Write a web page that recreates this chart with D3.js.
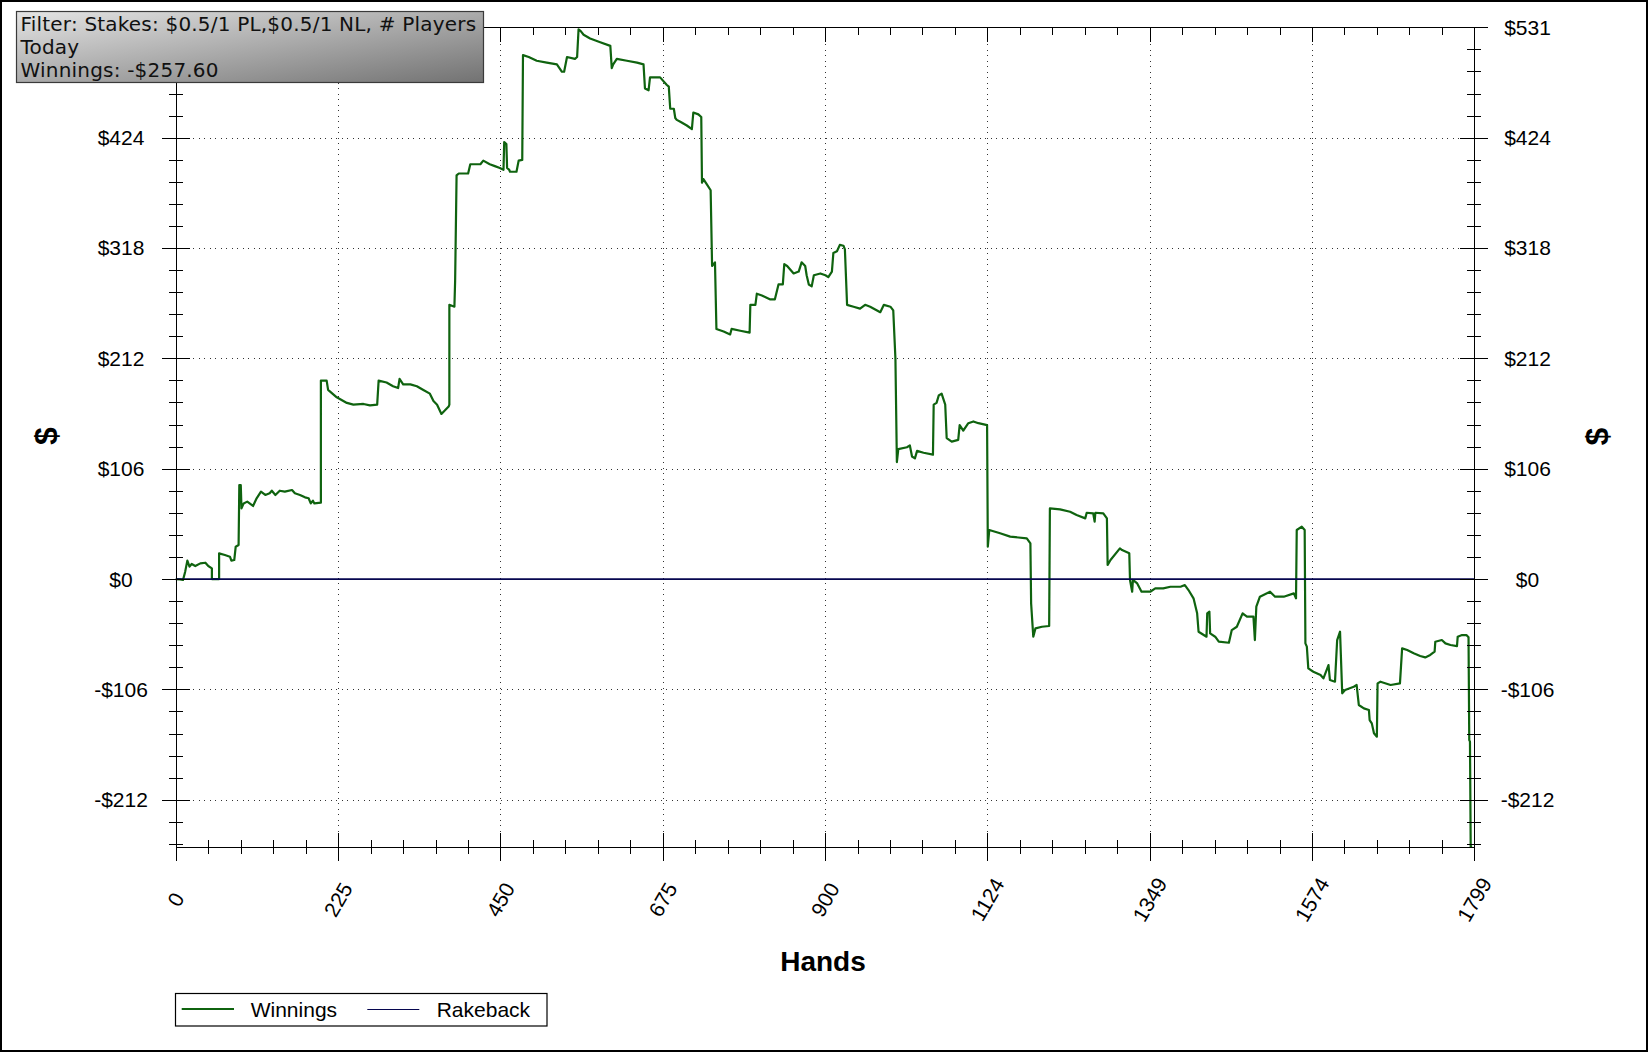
<!DOCTYPE html>
<html><head><meta charset="utf-8">
<script src="https://cdn.jsdelivr.net/npm/d3@7"></script>
<style>body{margin:0;background:#fff;overflow:hidden}</style>
</head><body>
<svg id="c" width="1649" height="1053"></svg>
<script>
// ---- data ----
const hands = [0,6,10,13,16,19,22,27,34,41,45,50,50,60,60,68,75,77,81,83,87,88,90,91,94,99,107,112,118,124,130,133,138,144,151,161,165,172,179,184,187,190,192,201,201,209,211,223,237,246,260,269,279,281,292,301,308,310,315,325,334,343,352,357,362,368,373,378,379,379,386,387,389,392,405,408,422,426,435,442,449,454,455,458,459,462,463,472,475,480,481,489,500,514,528,535,538,542,553,556,558,561,565,574,588,602,604,606,611,625,639,648,650,655,657,671,680,683,685,690,692,694,699,708,715,717,724,728,729,731,736,741,743,747,749,759,768,770,782,795,796,803,805,812,823,830,835,841,843,847,856,863,867,872,874,877,881,884,893,900,904,909,911,916,920,925,927,930,939,948,955,962,976,981,990,994,997,999,1001,1013,1017,1020,1024,1027,1036,1049,1050,1054,1057,1061,1066,1068,1075,1084,1086,1091,1098,1105,1112,1124,1125,1127,1142,1156,1179,1184,1185,1188,1191,1200,1210,1211,1225,1239,1248,1260,1262,1271,1273,1274,1285,1290,1291,1295,1308,1311,1321,1322,1325,1326,1332,1338,1350,1357,1368,1378,1392,1398,1403,1410,1415,1417,1428,1429,1432,1433,1440,1445,1459,1463,1470,1478,1484,1493,1495,1497,1502,1516,1523,1535,1549,1552,1553,1560,1564,1565,1567,1569,1576,1586,1590,1597,1599,1606,1609,1613,1616,1620,1632,1636,1639,1646,1653,1654,1657,1660,1664,1665,1669,1683,1696,1699,1706,1715,1724,1731,1738,1744,1745,1754,1759,1766,1775,1776,1782,1788,1791,1792,1793,1794,1796];
const winnings = [0,-0.3,-0.9,7.1,17.7,11.9,14.5,12.5,15.1,15.7,12.5,10.3,0,0,24.7,23.1,21.5,17.7,18.3,31.1,32.7,90.5,90.5,68,72.8,74.5,70.3,77.7,84.1,80.9,82.5,85,80.9,85,84.1,85.7,82.5,80.9,78.6,77.7,72.8,75.4,72.8,73.5,191,191,182,174.9,169.5,167.8,168.5,167.1,167.8,191,189.1,185.6,183.8,192.7,187.3,187.3,185.6,182,178.4,171.3,167.8,158.9,162.4,166,167.8,263.9,262.1,287,388.5,390.3,390.3,399.2,399.2,402.7,399.2,397.4,395.6,393.8,420.5,418.7,395.6,393.8,392,392,402.7,403.4,504.2,502.4,498.8,497,495.3,488.2,488.2,502.4,500.6,502.4,529.1,527.3,523.8,520.2,516.6,513.1,491.7,495.3,500.6,498.8,497,495.3,472.1,470.4,482.8,482.8,475.7,473.9,452.6,452.6,443.7,441.9,440.1,436.5,433,449,447.2,444.7,381.4,384.9,379.6,374.2,301.3,304.8,240.7,238.2,235.4,240.7,239,237.2,263.9,263.9,274.6,272.8,269.2,269.2,283.5,283.5,303,301.3,294.1,295.9,304.8,301.3,292.4,283.5,281.7,292.4,294.1,292.4,290.6,295.9,313.7,315.5,321.6,320.8,317.3,263.9,262.1,260.3,263.9,262.1,256.8,263.9,262.1,258.5,212.3,112.6,125,126.8,128.6,117.9,116.1,123.3,121.5,119.7,167.8,169.5,176.7,178.4,167.8,135.7,132.2,133.9,148.2,142.8,150,151.7,150,148.2,31.1,47.2,44,40.8,39.1,34.3,-23.4,-55.5,-47.5,-45.9,-45.2,68,67.1,64.8,61.6,58.4,63.8,63.2,55.2,63.8,63.2,58.4,13.5,18.3,29.5,27.9,24.7,-0.9,-12.2,-0.9,-4.2,-12.2,-12.2,-9,-9,-7.4,-7.4,-5.8,-10.6,-18.6,-33,-50.7,-55.5,-33,-31.4,-52.3,-55.5,-60.3,-61.3,-49.1,-45.9,-33,-36.2,-36.2,-58.7,-26.6,-17,-12.2,-17,-17,-13.8,-18.6,47.2,50.4,47.2,-61.9,-65.1,-86,-89.2,-92.4,-95.6,-82.8,-97.2,-98.8,-58.7,-50.7,-110,-106.8,-103.6,-102,-121.2,-124.5,-126.1,-135.7,-138.9,-148.5,-151.7,-100.4,-98.8,-102,-100.4,-66.7,-68.3,-71.5,-74.1,-75.4,-73.1,-69.9,-60.3,-58.7,-61.9,-63.5,-64.5,-55.5,-53.9,-53.9,-56.1,-155,-156.5,-257.6,-257.6];
const rakebackHands = [0, 1799];
const rakeback = [0, 0];
const xTickValues = [0, 224.875, 449.75, 674.625, 899.5, 1124.375, 1349.25, 1574.125, 1799];
const xTickLabels = ["0","225","450","675","900","1124","1349","1574","1799"];
const yTickValues = [-212.4, -106.2, 0, 106.2, 212.4, 318.6, 424.8, 531];
const yTickLabels = ["-$212","-$106","$0","$106","$212","$318","$424","$531"];
const xDomain = [0, 1799];
const yDomain = [-257.6, 531];
const filterLines = ["Filter: Stakes: $0.5/1 PL,$0.5/1 NL, # Players", "Today", "Winnings: -$257.60"];
const legendItems = ["Winnings", "Rakeback"];
const xTitle = "Hands", yTitle = "$";

// ---- drawing ----
const svg = d3.select('#c');
const L = 175.8, R = 1474.3, T = 27.3, B = 846.7;
const x = d3.scaleLinear().domain(xDomain).range([L, R]);
const y = d3.scaleLinear().domain(yDomain).range([B, T]);
const px = v => Math.round(v) + 0.5;
const GREEN = '#0f630f', NAVY = '#06064f';

svg.append('rect').attr('width',1649).attr('height',1053).attr('fill','#fff');

// grid
const grid = svg.append('g').attr('stroke','#333').attr('stroke-width',1).attr('stroke-dasharray','1,4.5').attr('shape-rendering','crispEdges');
grid.selectAll('.gx').data(xTickValues.slice(1,-1)).join('line')
  .attr('x1',d=>px(x(d))).attr('x2',d=>px(x(d))).attr('y1',px(T)).attr('y2',px(B));
grid.selectAll('.gy').data(yTickValues.filter(d=>d!==0 && d!==531)).join('line')
  .attr('y1',d=>px(y(d))).attr('y2',d=>px(y(d))).attr('x1',px(L)).attr('x2',px(R));

// winnings line
const pts = d3.zip(hands, winnings);
svg.append('path').datum(pts)
  .attr('d', d3.line().x(d=>x(d[0])).y(d=>y(d[1])))
  .attr('fill','none').attr('stroke',GREEN).attr('stroke-width',2.2).attr('stroke-linejoin','round');

// rakeback line
svg.append('path').datum(d3.zip(rakebackHands, rakeback))
  .attr('d', d3.line().x(d=>x(d[0])).y(d=>y(d[1])))
  .attr('fill','none').attr('stroke',NAVY).attr('stroke-width',1.8);

// axes frame
const ax = svg.append('g').attr('stroke','#000').attr('stroke-width',1.3).attr('shape-rendering','crispEdges');
ax.append('line').attr('x1',px(L)).attr('x2',px(L)).attr('y1',px(T)).attr('y2',B+14);
ax.append('line').attr('x1',px(R)).attr('x2',px(R)).attr('y1',px(T)).attr('y2',B+14);
ax.append('line').attr('x1',L).attr('x2',R).attr('y1',px(B)).attr('y2',px(B));
ax.append('line').attr('x1',L).attr('x2',R).attr('y1',px(T)).attr('y2',px(T));

// minor ticks
const xMinor = d3.range(0, 41).map(i => i*1799/40).filter((d,i)=>i%5!==0);
const yMinor = d3.range(-12, 26).map(i => i*21.24).filter((d,i)=>d>=-257.6 && Math.abs(d/106.2 - Math.round(d/106.2))>0.01);
ax.selectAll('.xmb').data(xMinor).join('line').attr('x1',d=>px(x(d))).attr('x2',d=>px(x(d))).attr('y1',B-7).attr('y2',B+7);
ax.selectAll('.xmt').data(xMinor).join('line').attr('x1',d=>px(x(d))).attr('x2',d=>px(x(d))).attr('y1',T).attr('y2',T+7.5);
ax.selectAll('.xMb').data(xTickValues).join('line').attr('x1',d=>px(x(d))).attr('x2',d=>px(x(d))).attr('y1',B-14).attr('y2',B+14);
ax.selectAll('.xMt').data(xTickValues).join('line').attr('x1',d=>px(x(d))).attr('x2',d=>px(x(d))).attr('y1',T).attr('y2',T+15);
[L, R].forEach(xx => {
  ax.selectAll(null).data(yMinor).join('line').attr('y1',d=>px(y(d))).attr('y2',d=>px(y(d))).attr('x1',xx-7).attr('x2',xx+7);
  ax.selectAll(null).data(yTickValues).join('line').attr('y1',d=>px(y(d))).attr('y2',d=>px(y(d))).attr('x1',xx-14).attr('x2',xx+14);
});

// tick labels
const FONT = '"Liberation Sans", Arial, sans-serif';
const tl = svg.append('g').attr('font-family',FONT).attr('font-size',21).attr('fill','#000');
tl.selectAll('.xl').data(xTickValues).join('text')
  .attr('transform',d=>`translate(${x(d)},899.5) rotate(-60)`)
  .attr('text-anchor','middle').attr('dominant-baseline','central')
  .text((d,i)=>xTickLabels[i]);
// left labels: the top one is covered by the filter box in the reference
tl.selectAll('.yl').data(yTickValues.slice(0,-1)).join('text')
  .attr('x',121).attr('y',d=>y(d)).attr('text-anchor','middle').attr('dominant-baseline','central')
  .text((d,i)=>yTickLabels[i]);
tl.selectAll('.yr').data(yTickValues).join('text')
  .attr('x',1527.5).attr('y',d=>y(d)).attr('text-anchor','middle').attr('dominant-baseline','central')
  .text((d,i)=>yTickLabels[i]);

// titles
svg.append('text').attr('x',823).attr('y',970.5).attr('text-anchor','middle')
  .attr('font-family',FONT).attr('font-weight','bold').attr('font-size',28).text(xTitle);
[[46.3,436],[1596.5,436.6]].forEach(([cx,cy]) => {
  svg.append('text').attr('transform',`translate(${cx},${cy}) rotate(-90)`)
    .attr('text-anchor','middle').attr('dominant-baseline','central')
    .attr('font-family',FONT).attr('font-weight','bold').attr('font-size',32).text(yTitle);
});

// legend
const lg = svg.append('g');
lg.append('rect').attr('x',175.5).attr('y',993.5).attr('width',371.5).attr('height',32.5)
  .attr('fill','#fff').attr('stroke','#000').attr('stroke-width',1.2);
lg.append('line').attr('x1',181.7).attr('x2',234).attr('y1',1009).attr('y2',1009).attr('stroke',GREEN).attr('stroke-width',2.2);
lg.append('line').attr('x1',367.3).attr('x2',419.3).attr('y1',1009.5).attr('y2',1009.5).attr('stroke',NAVY).attr('stroke-width',1);
lg.selectAll('text').data(legendItems).join('text')
  .attr('x',(d,i)=>[250.7,436.7][i]).attr('y',1016.5)
  .attr('font-family',FONT).attr('font-size',21).text(d=>d);

// filter box
const defs = svg.append('defs');
const gr = defs.append('linearGradient').attr('id','fg').attr('x1',0).attr('y1',0).attr('x2',1).attr('y2',1);
gr.append('stop').attr('offset',0).attr('stop-color','#e4e4e4');
gr.append('stop').attr('offset',1).attr('stop-color','#727272');
svg.append('rect').attr('x',16.5).attr('y',11.5).attr('width',467).attr('height',71)
  .attr('fill','url(#fg)').attr('stroke','#3a3a3a').attr('stroke-width',1.2);
svg.append('g').attr('font-family','"DejaVu Sans", Verdana, sans-serif').attr('font-size',20).attr('fill','#111')
  .selectAll('text').data(filterLines).join('text')
  .attr('x',20.5).attr('y',(d,i)=>30.5 + i*23).attr('letter-spacing',0.2).text(d=>d);

// outer frame
svg.append('rect').attr('x',1).attr('y',1).attr('width',1646).attr('height',1050)
  .attr('fill','none').attr('stroke','#000').attr('stroke-width',2);
</script>
</body></html>
